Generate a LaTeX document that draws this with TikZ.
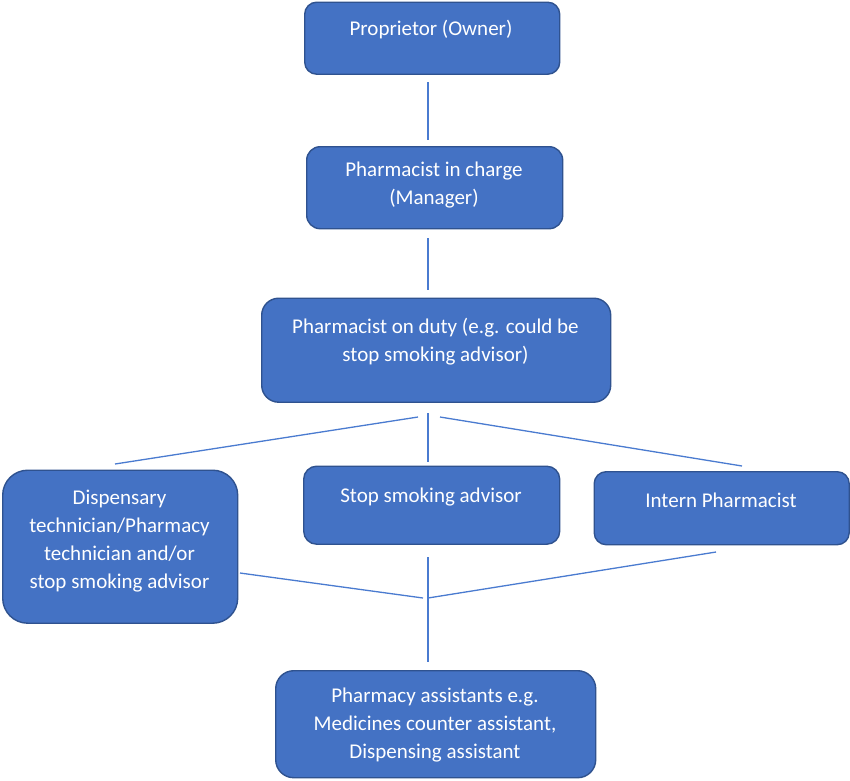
\documentclass[tikz,border=0pt]{standalone}
\usepackage{fontspec}
\setmainfont{Carlito}
\definecolor{boxfill}{HTML}{4472C4}
\definecolor{boxline}{HTML}{2F528F}
\definecolor{conn}{HTML}{4A7BD0}
\begin{document}
\begin{tikzpicture}[x=1pt,y=-1pt,
  orgbox/.style={draw=boxline,fill=boxfill,line width=1.4pt,inner sep=0pt,anchor=north west},
  lbl/.style={text=white,font=\fontsize{21}{28}\selectfont,align=center,inner sep=0pt},
  conline/.style={draw=conn,line width=1.3pt}]
\useasboundingbox (0,0) rectangle (850,780);
\fill[white] (0,0) rectangle (850,780);
% boxes
\node[orgbox,minimum width=255pt,minimum height=72pt,rounded corners=12pt] (b1) at (304,1.5) {};
\node[orgbox,minimum width=256pt,minimum height=82pt,rounded corners=13.5pt] (b2) at (306,146) {};
\node[orgbox,minimum width=349pt,minimum height=104pt,rounded corners=17pt] (b3) at (261,297.5) {};
\node[orgbox,minimum width=235pt,minimum height=153pt,rounded corners=25pt] (b4) at (2,469.5) {};
\node[orgbox,minimum width=256pt,minimum height=78pt,rounded corners=13pt] (b5) at (303,465.5) {};
\node[orgbox,minimum width=255pt,minimum height=73pt,rounded corners=12pt] (b6) at (593.5,471) {};
\node[orgbox,minimum width=320pt,minimum height=107pt,rounded corners=18pt] (b7) at (275,670) {};
% labels
\node[lbl] (t1) at (431,30) {Proprietor (Owner)};
\node[lbl] (t2) at (434,185.5) {Pharmacist in charge\\(Manager)};
\node[lbl] (t3) at (435.5,342) {Pharmacist on duty (e.g. could be\\stop smoking advisor)};
\node[lbl] (t4) at (119.5,541) {Dispensary\\technician/Pharmacy\\technician and/or\\stop smoking advisor};
\node[lbl] (t5) at (431,497) {Stop smoking advisor};
\node[lbl] (t6) at (721,500) {Intern Pharmacist};
\node[lbl] (t7) at (435,724.5) {Pharmacy assistants e.g.\\Medicines counter assistant,\\Dispensing assistant};
% connector end points
\coordinate (c1a) at (428,82);  \coordinate (c1b) at (428,140);
\coordinate (c2a) at (428,238); \coordinate (c2b) at (428,290);
\coordinate (c3a) at (418,417);   \coordinate (c3b) at (115,464);
\coordinate (c4a) at (428,413); \coordinate (c4b) at (428,462);
\coordinate (c5a) at (440,417);   \coordinate (c5b) at (742,466);
\coordinate (c6a) at (240,573);   \coordinate (c6b) at (423,598);
\coordinate (c7a) at (428,557);   \coordinate (c7b) at (428,662);
\coordinate (c8a) at (428,598);   \coordinate (c8b) at (716,552);
\draw[conline] (c1a) -- (c1b);
\draw[conline] (c2a) -- (c2b);
\draw[conline] (c3a) -- (c3b);
\draw[conline] (c4a) -- (c4b);
\draw[conline] (c5a) -- (c5b);
\draw[conline] (c6a) -- (c6b);
\draw[conline] (c7a) -- (c7b);
\draw[conline] (c8a) -- (c8b);
\end{tikzpicture}
\end{document}
